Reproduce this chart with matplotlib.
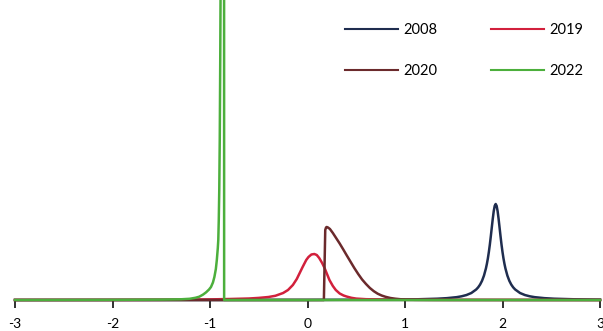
import matplotlib
matplotlib.use("Agg")
import matplotlib.pyplot as plt

plt.rcParams['font.family'] = ['Lato', 'DejaVu Sans']

# ---- data ----
x_2008 = [-3.0, 0.0, 0.93, 1.13, 1.33, 1.43, 1.53, 1.58, 1.63, 1.68, 1.73, 1.75, 1.77, 1.79,
          1.81, 1.83, 1.84, 1.85, 1.86, 1.87, 1.88, 1.89, 1.90, 1.91, 1.92, 1.93, 1.94, 1.95,
          1.96, 1.97, 1.98, 1.99, 2.00, 2.01, 2.02, 2.03, 2.05, 2.07, 2.09, 2.11, 2.13, 2.18,
          2.23, 2.28, 2.33, 2.43, 2.53, 2.73, 2.93, 3.0]
y_2008 = [0.0002, 0.0013, 0.0047, 0.0073, 0.0129, 0.0185, 0.0285, 0.0369, 0.0496, 0.0698, 0.105,
          0.126, 0.154, 0.192, 0.244, 0.316, 0.362, 0.416, 0.48, 0.553, 0.636, 0.724, 0.811,
          0.888, 0.941, 0.96, 0.941, 0.888, 0.811, 0.724, 0.636, 0.553, 0.48, 0.416, 0.362,
          0.316, 0.244, 0.192, 0.154, 0.126, 0.105, 0.0698, 0.0496, 0.0369, 0.0285, 0.0185,
          0.0129, 0.0073, 0.0047, 0.0041]

x_2019 = [-3.0, -2.0, -1.5, -1.2, -1.0, -0.8, -0.6, -0.5, -0.4, -0.33, -0.25, -0.2, -0.15,
          -0.11, -0.08, -0.05, -0.013, 0.01, 0.04, 0.07, 0.095, 0.12, 0.15, 0.175, 0.2, 0.225,
          0.26, 0.29, 0.33, 0.37, 0.40, 0.45, 0.5, 0.6, 0.8, 1.0, 1.5, 3.0]
y_2019 = [0.0005, 0.001, 0.002, 0.004, 0.006, 0.01, 0.015, 0.021, 0.03, 0.042, 0.07, 0.10, 0.15,
          0.21, 0.27, 0.33, 0.40, 0.43, 0.455, 0.46, 0.45, 0.42, 0.37, 0.32, 0.26, 0.20,
          0.14, 0.10, 0.065, 0.045, 0.035, 0.022, 0.014, 0.008, 0.004, 0.002, 0.001, 0.0003]

x_2020 = [-3.0, 0.168, 0.182, 0.19, 0.197, 0.21, 0.23, 0.26, 0.29, 0.33, 0.37, 0.40, 0.44,
          0.48, 0.52, 0.56, 0.60, 0.64, 0.68, 0.72, 0.76, 0.80, 0.85, 0.90, 0.95, 1.0,
          1.1, 1.3, 3.0]
y_2020 = [0.0, 0.0, 0.70, 0.725, 0.73, 0.725, 0.71, 0.67, 0.625, 0.565, 0.50, 0.45, 0.385,
          0.32, 0.26, 0.205, 0.16, 0.12, 0.088, 0.063, 0.045, 0.032, 0.02, 0.013, 0.008, 0.005,
          0.002, 0.001, 0.0]

x_2022 = [-3.0, -2.0, -1.5, -1.3, -1.21, -1.15, -1.11, -1.07, -1.04, -1.01, -0.99, -0.97,
          -0.955, -0.94, -0.93, -0.92, -0.915, -0.91, -0.905, -0.9, -0.895, -0.89, -0.88,
          -0.856, -0.855, 3.0]
y_2022 = [0.0, 0.0015, 0.004, 0.007, 0.012, 0.022, 0.033, 0.055, 0.077, 0.105, 0.13, 0.175,
          0.23, 0.31, 0.40, 0.52, 0.60, 0.80, 1.1, 1.6, 2.4, 3.4, 6.0,
          6.0, 0.0, 0.0]

labels = ["2008", "2019", "2020", "2022"]
colors = ["#1f2d4f", "#d2203c", "#6b2a2c", "#4caf3c"]
x_ticks = [-3, -2, -1, 0, 1, 2, 3]

fig = plt.figure(figsize=(6.03, 3.31), dpi=100)
ax = fig.add_axes([15 / 603, 31 / 331, 585 / 603, 300 / 331])

series = [(x_2008, y_2008), (x_2019, y_2019), (x_2020, y_2020), (x_2022, y_2022)]
handles = []
for i, ((xs, ys), lab, c) in enumerate(zip(series, labels, colors)):
    ln, = ax.plot(xs, ys, color=c, lw=1.8, label=lab, zorder=3 + i, clip_on=False,
                  solid_joinstyle="round")
    handles.append(ln)

ax.set_xlim(-3, 3)
ax.set_ylim(0, 3.0)
ax.set_xticks(x_ticks)
ax.set_xticklabels([str(t) for t in x_ticks])
ax.set_yticks([])
for s in ["left", "right", "top"]:
    ax.spines[s].set_visible(False)
ax.spines["bottom"].set_color("#404040")
ax.spines["bottom"].set_linewidth(1.0)
ax.spines["bottom"].set_zorder(1)
ax.tick_params(axis="x", direction="out", length=5.5, width=1.3, color="#202020",
               labelsize=10, pad=7.5, labelcolor="#000000")

# legend laid out row-wise: 2008, 2019 / 2020, 2022
order = [0, 2, 1, 3]
leg = ax.legend([handles[k] for k in order], [labels[k] for k in order], ncol=2,
                loc="upper left", bbox_to_anchor=((345 - 15) / 585, 1.0 - 23 / 300),
                frameon=False, fontsize=10.5, handlelength=3.6, handletextpad=0.4,
                columnspacing=3.7, labelspacing=1.86, borderaxespad=0, borderpad=0)
for ln in leg.get_lines():
    ln.set_linewidth(1.5)

fig.savefig("out.png", dpi=100)
